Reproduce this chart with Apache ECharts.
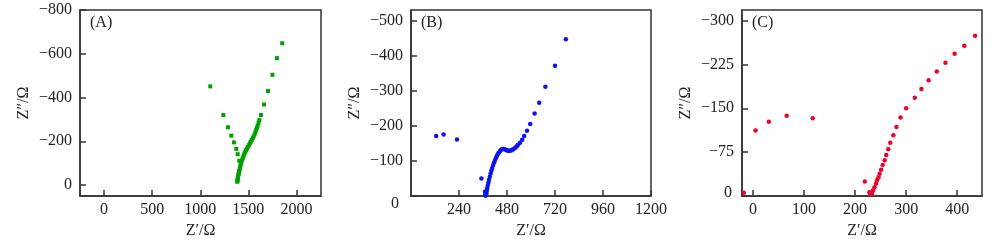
<!DOCTYPE html>
<html>
<head>
<meta charset="utf-8">
<script src="https://cdn.jsdelivr.net/npm/echarts@6/dist/echarts.min.js"></script>
<style>html,body{margin:0;padding:0;background:#fff}#c{width:1000px;height:245px}</style>
</head>
<body>
<div id="c"></div>
<script>
// Panel A (green squares): Z' and Z'' in ohm
const aRe = [1104,1240,1288,1323,1350,1375,1389,1406,
  1385,1386,1388,1390,1392,1395,1398,1401,1405,1409,1413,1418,1423,1429,1436,1443,1451,1459,1467,1476,1485,1495,1505,1515,1525,1535,1545,1555,1564,1572,1580,1588,1597,1606,1614,1631,1663,1704,1750,1797,1852];
const aIm = [-451,-320,-264,-226,-195,-165,-141,-111,
  -15,-20,-25,-31,-37,-43,-50,-57,-64,-72,-80,-89,-98,-107,-116,-125,-134,-143,-151,-159,-166,-174,-182,-190,-198,-206,-214,-222,-231,-240,-250,-261,-272,-285,-297,-320,-368,-430,-504,-580,-648];
// Panel B (blue dots)
const bRe = [126,163,230,352,
  370,372,373,375,377,379,381,384,387,390,394,398,402,406,411,416,421,426,431,436,441,446,451,457,463,469,475,481,487,493,499,505,511,517,523,529,535,
  545,556,566,580,596,618,641,672,720,774];
const bIm = [-171,-175,-161,-50,
  -12,-5,-1,-3,-8,-15,-22,-30,-38,-46,-55,-64,-72,-80,-88,-96,-103,-110,-116,-121,-125,-129,-132,-134,-134,-133,-131,-130,-129,-129,-130,-131,-133,-135,-138,-142,-146,
  -152,-160,-171,-186,-205,-235,-266,-311,-371,-447];
// Panel C (red dots)
const cRe = [-18,5,31,66,117,219,228,
  230,233,235,238,241,243,246,248,251,254,258,261,265,269,275,281,289,300,317,330,344,360,377,395,414,435];
const cIm = [-5.5,-112,-127,-137,-133,-25,-6.5,
  -2.6,-4.8,-9.4,-15,-21,-27,-32,-38,-45,-53,-61,-70,-80,-91,-104,-118,-134,-150,-168,-183,-198,-213,-228,-243,-257,-274];

const xTicksA = [0,500,1000,1500,2000];
const yTicksA = [0,-200,-400,-600,-800];
const xTicksB = [240,480,720,960,1200];
const yTicksB = [0,-100,-200,-300,-400,-500];
const xTicksC = [0,100,200,300,400];
const yTicksC = [0,-75,-150,-225,-300];

const xName = 'Z\u2032/\u03A9';
const yName = 'Z\u2033/\u03A9';
const panelLabels = ['(A)','(B)','(C)'];

const FONT = 'Liberation Serif';
const TXT = '#222';
const LINE = '#333';
const fmt = v => v < 0 ? '\u2212' + Math.abs(v) : String(v);
const zip = (a,b) => a.map((v,i)=>[v,b[i]]);

const grids = [
  {left:80, top:10, width:241, height:186},
  {left:411, top:10, width:240, height:186},
  {left:742, top:10, width:240, height:186}
].map(g => Object.assign(g, {show:true, borderColor:LINE, borderWidth:1.5, backgroundColor:'transparent'}));

function xAxis(i, min, max, ticks){
  return {type:'value', gridIndex:i, min, max, name:xName, nameLocation:'middle', nameGap:23,
    nameTextStyle:{fontFamily:FONT, fontSize:16, color:TXT},
    axisLine:{show:true, onZero:false, lineStyle:{color:LINE, width:1.5}},
    axisTick:{show:true, inside:true, length:6, customValues:ticks, lineStyle:{color:LINE, width:1.5}},
    axisLabel:{fontFamily:FONT, fontSize:16, color:TXT, margin:6, customValues:ticks, formatter:fmt},
    splitLine:{show:false}};
}
function yAxis(i, min, max, ticks, rich){
  return {type:'value', gridIndex:i, min, max, inverse:true, name:yName, nameLocation:'middle', nameGap:48, nameRotate:90,
    nameTextStyle:{fontFamily:FONT, fontSize:16, color:TXT},
    axisLine:{show:true, onZero:false, lineStyle:{color:LINE, width:1.5}},
    axisTick:{show:true, inside:true, length:6, customValues:ticks, lineStyle:{color:LINE, width:1.5}},
    axisLabel:{fontFamily:FONT, fontSize:16, color:TXT, margin:8, customValues:ticks,
      formatter: v => (rich && v === 0) ? '{z|0}' : fmt(v),
      rich: rich ? {z:Object.assign({fontFamily:FONT, fontSize:16, color:TXT}, rich)} : undefined},
    splitLine:{show:false}};
}

const option = {
  animation:false,
  backgroundColor:'#fff',
  title: panelLabels.map((t,i)=>({text:t, left:[90,421,752][i], top:15, padding:0,
    textStyle:{fontFamily:FONT, fontSize:16, fontWeight:'normal', color:TXT}})),
  grid: grids,
  xAxis: [xAxis(0,-250,2255,xTicksA), xAxis(1,0,1200,xTicksB), xAxis(2,-21.5,448.6,xTicksC)],
  yAxis: [yAxis(0,-800,50,yTicksA,null),
          yAxis(1,-530,0,yTicksB,{padding:[15,4,0,0]}),
          yAxis(2,-318,0,yTicksC,{padding:[0,2,6,0]})],
  series: [
    {type:'scatter', xAxisIndex:0, yAxisIndex:0, symbol:'rect', symbolSize:4, itemStyle:{color:'#00a000', opacity:1}, data:zip(aRe,aIm)},
    {type:'scatter', xAxisIndex:1, yAxisIndex:1, symbol:'circle', symbolSize:4.5, itemStyle:{color:'#0a14f0', opacity:1}, data:zip(bRe,bIm)},
    {type:'scatter', xAxisIndex:2, yAxisIndex:2, symbol:'circle', symbolSize:4.5, itemStyle:{color:'#f0002a', opacity:1}, data:zip(cRe,cIm)}
  ]
};
echarts.init(document.getElementById('c'), null, {renderer:'canvas'}).setOption(option);
</script>
</body>
</html>
